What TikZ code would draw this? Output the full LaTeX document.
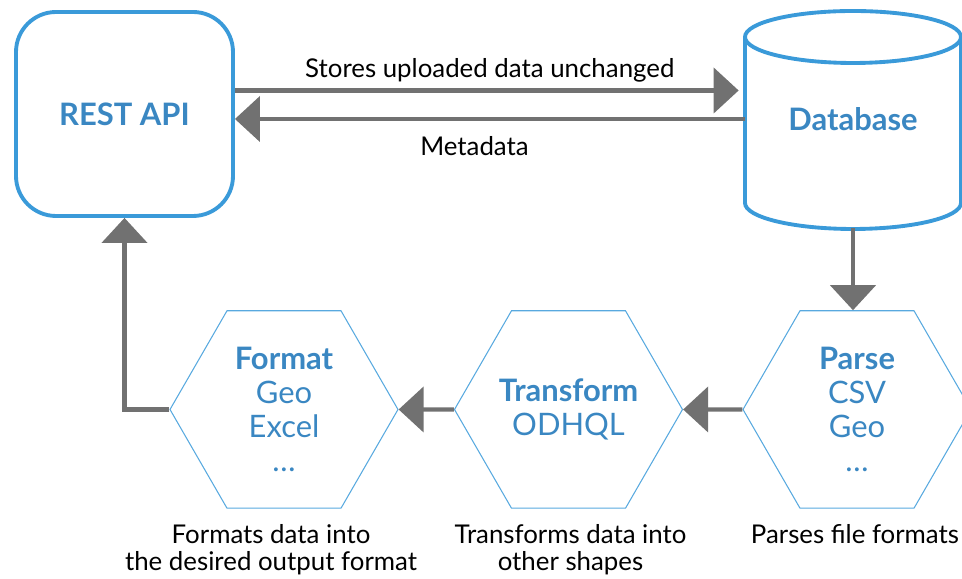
\documentclass[tikz,border=0pt]{standalone}
\usepackage{fontspec}
\setmainfont{Lato}
\usetikzlibrary{arrows.meta}
\usetikzlibrary{shapes.geometric}
\usetikzlibrary{positioning}

\definecolor{boxblue}{HTML}{3A9AD9}
\definecolor{textblue}{HTML}{3A87C2}
\definecolor{flowgray}{HTML}{717171}

\begin{document}
\begin{tikzpicture}[
    flow/.style={draw=flowgray, line width=2.5pt, -{Triangle[length=0.5cm, width=0.9cm]}},
    apibox/.style={draw=boxblue, line width=2.2pt, rounded corners=0.8cm, minimum width=4.34cm, minimum height=4.08cm, text=textblue, font=\fontsize{17.6}{20}\selectfont\bfseries},
    hexa/.style={draw=boxblue!85, line width=0.6pt, regular polygon, regular polygon sides=6, minimum size=4.56cm, inner sep=0pt, text=textblue, align=center, font=\fontsize{17.6}{19.3}\selectfont},
    note/.style={font=\fontsize{14.7}{14.9}\selectfont, align=center}
  ]
      \useasboundingbox (0,0) rectangle (19.24,11.58);
      \def\dbrx{2.16}
      \def\dbry{0.52}

      % REST API and database
      \node[apibox] (api) at (2.49,9.30) {REST API};
      \draw[boxblue, line width=2.2pt, fill=white] (17.06-\dbrx,10.84) -- (17.06-\dbrx,7.52) arc[start angle=180, end angle=360, x radius=\dbrx, y radius=\dbry] -- (17.06+\dbrx,10.84);
      \draw[boxblue, line width=2.2pt] (17.06,10.84) ellipse [x radius=\dbrx, y radius=\dbry];
      \node[minimum width=4.32cm, minimum height=4.36cm, text=textblue, font=\fontsize{17.6}{20}\selectfont\bfseries] (db) at (17.06,9.2) {Database};

      \draw[flow, shorten >=0.12cm] (api.east |- 0,9.77) -- (db.west |- 0,9.77) node[midway, above=0pt, note] {Stores uploaded data unchanged};
      \draw[flow] (db.west) -- (api.east |- db.west) node[pos=0.53, below=0.18cm, note] {Metadata};

      % processing steps
      \node[hexa] (fmt) at (5.68,3.39) {\textbf{Format}\\Geo\\Excel\\…};
      \node[hexa] (trf) at (11.37,3.39) {\textbf{Transform}\\ODHQL};
      \node[hexa] (prs) at (17.14,3.39) {\textbf{Parse}\\CSV\\Geo\\…};

      \node[note, below=0.2cm of fmt, xshift=-0.26cm] (fmtnote) {Formats data into\\the desired output format};
      \node[note, below=0.2cm of trf, xshift=0.04cm] (trfnote) {Transforms data into\\other shapes};
      \node[note, below=0.2cm of prs, xshift=-0.04cm] (prsnote) {Parses file formats};

      \draw[flow] (db.south) -- (db.south |- prs.north);
      \draw[flow] (prs.west) -- (trf.east);
      \draw[flow] (trf.west) -- (fmt.east);
      \draw[flow] (fmt.west) -| (api.south);

    \end{tikzpicture}
\end{document}
